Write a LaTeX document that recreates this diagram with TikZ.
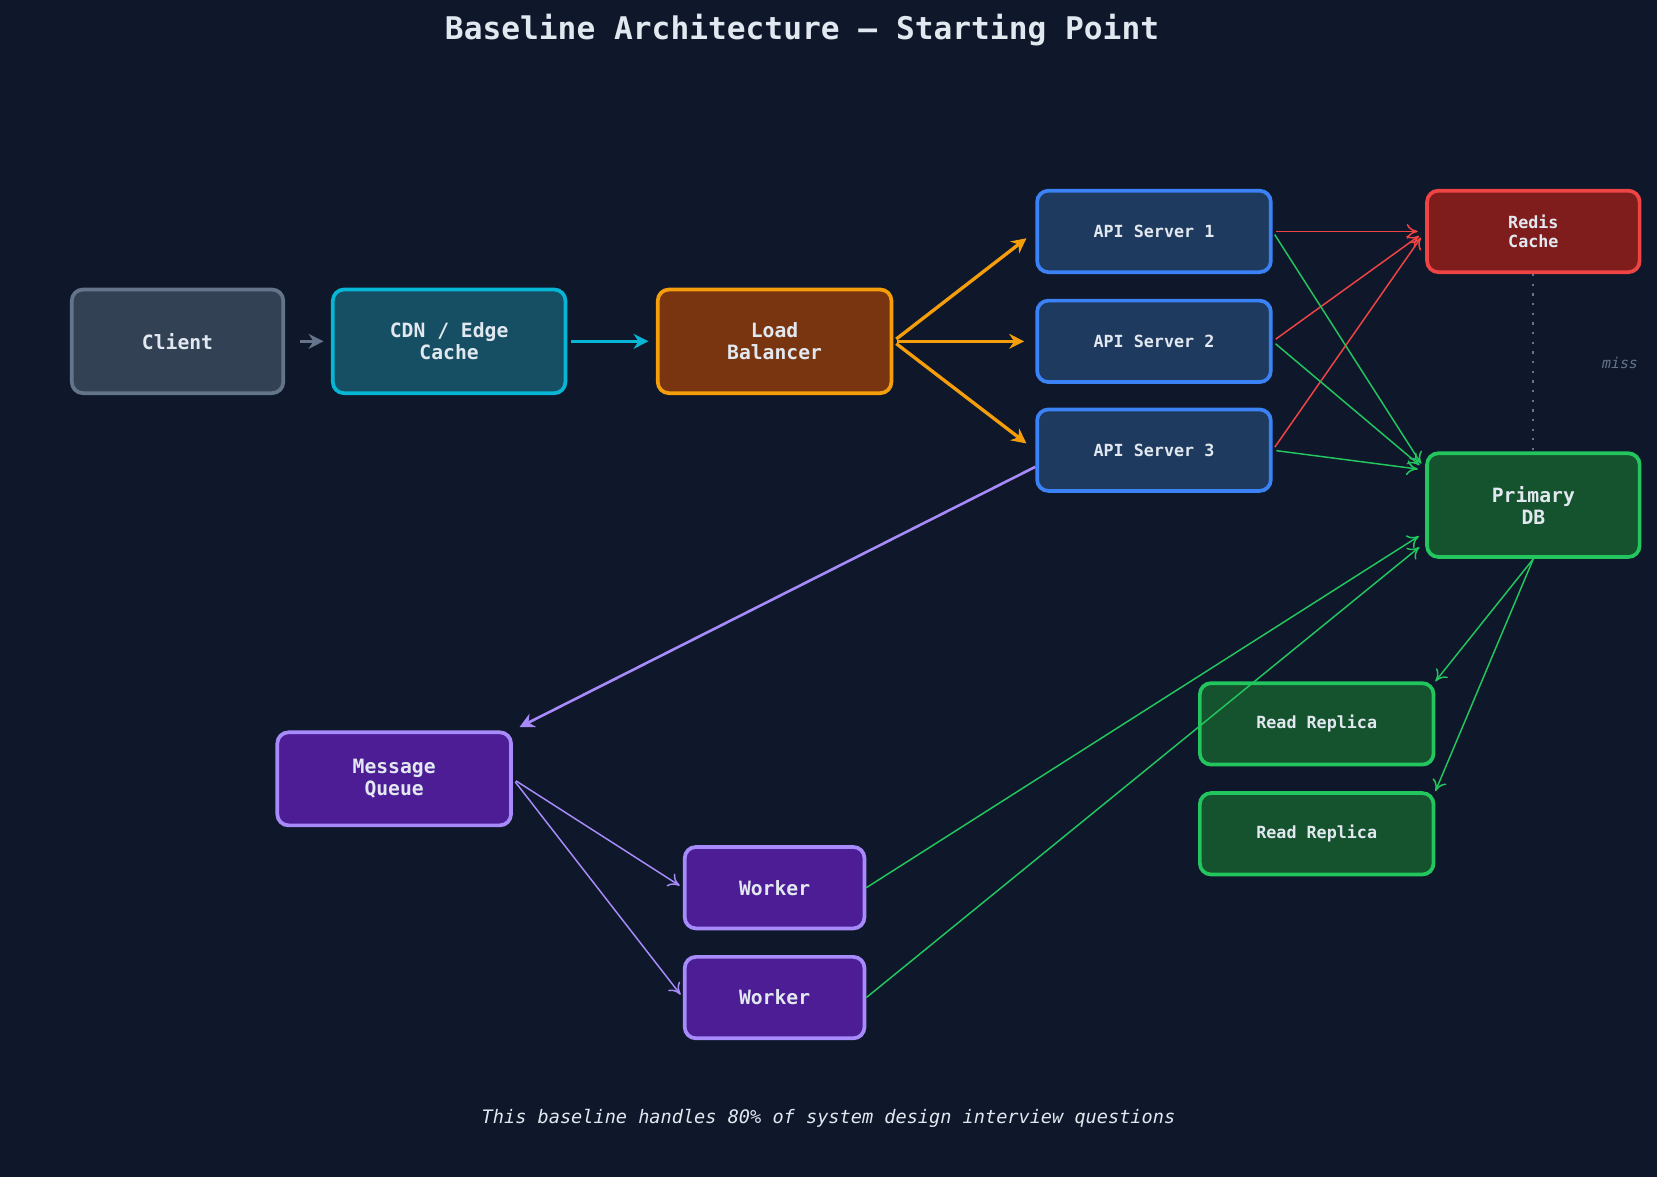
\documentclass[tikz,border=0pt]{standalone}
\usepackage{fontspec}
\setmonofont{DejaVu Sans Mono}
\usetikzlibrary{arrows.meta}
\definecolor{bg}{HTML}{0F172A}
\definecolor{txt}{HTML}{E2E8F0}
\definecolor{slatefill}{HTML}{334155}\definecolor{slateline}{HTML}{64748B}
\definecolor{cyanfill}{HTML}{164E63}\definecolor{cyanline}{HTML}{06B6D4}
\definecolor{amberfill}{HTML}{78350F}\definecolor{amberline}{HTML}{F59E0B}
\definecolor{bluefill}{HTML}{1E3A5F}\definecolor{blueline}{HTML}{3B82F6}
\definecolor{redfill}{HTML}{7F1D1D}\definecolor{redline}{HTML}{EF4444}
\definecolor{greenfill}{HTML}{14532D}\definecolor{greenline}{HTML}{22C55E}
\definecolor{violetfill}{HTML}{4C1D95}\definecolor{violetline}{HTML}{A78BFA}
\tikzset{
  box/.style={rectangle, rounded corners=3pt, line width=1pt, text=txt, align=center,
    font=\ttfamily\bfseries\fontsize{4.5}{5.2}\selectfont, inner sep=0pt},
  big/.style={font=\ttfamily\bfseries\fontsize{5.3}{6}\selectfont},
  arrow/.style={line width=0.9pt, -{Stealth[length=4pt,width=4pt]}},
  thin/.style={line width=0.4pt, -{To[length=3pt,width=4pt]}}
}
\begin{document}
\begin{tikzpicture}[x=0.01cm, y=-0.01cm]
\fill[bg] (0,0) rectangle (1568,1114);
\useasboundingbox (0,0) rectangle (1568,1114);
\node[text=txt, font=\ttfamily\bfseries\fontsize{8.4}{9.5}\selectfont] (title) at (759,28) {Baseline Architecture — Starting Point};
% front
\node[box, big, fill=slatefill, draw=slateline, minimum width=2cm, minimum height=0.98cm] (client) at (168,323) {Client};
\node[box, big, fill=cyanfill, draw=cyanline, minimum width=2.2cm, minimum height=0.98cm] (cdn) at (425,323) {CDN / Edge\\Cache};
\node[box, big, fill=amberfill, draw=amberline, minimum width=2.21cm, minimum height=0.98cm] (lb) at (733,323) {Load\\Balancer};
% api tier
\node[box, fill=bluefill, draw=blueline, minimum width=2.21cm, minimum height=0.77cm] (api1) at (1092,219) {API Server 1};
\node[box, fill=bluefill, draw=blueline, minimum width=2.21cm, minimum height=0.77cm] (api2) at (1092,323) {API Server 2};
\node[box, fill=bluefill, draw=blueline, minimum width=2.21cm, minimum height=0.77cm] (api3) at (1092,426) {API Server 3};
% data tier
\node[box, fill=redfill, draw=redline, minimum width=2.01cm, minimum height=0.77cm] (redis) at (1451,219) {Redis\\Cache};
\node[box, big, fill=greenfill, draw=greenline, minimum width=2.01cm, minimum height=0.98cm] (db) at (1451,478) {Primary\\DB};
\node[box, fill=greenfill, draw=greenline, minimum width=2.21cm, minimum height=0.77cm] (rr1) at (1246,685) {Read Replica};
\node[box, fill=greenfill, draw=greenline, minimum width=2.21cm, minimum height=0.77cm] (rr2) at (1246,789) {Read Replica};
% async
\node[box, big, fill=violetfill, draw=violetline, minimum width=2.21cm, minimum height=0.88cm] (mq) at (373,737) {Message\\Queue};
\node[box, big, fill=violetfill, draw=violetline, minimum width=1.7cm, minimum height=0.77cm] (w1) at (733,840) {Worker};
\node[box, big, fill=violetfill, draw=violetline, minimum width=1.7cm, minimum height=0.77cm] (w2) at (733,944) {Worker};
\node[text=slateline, font=\ttfamily\itshape\fontsize{4}{5}\selectfont] (miss) at (1533,343) {miss};
\node[text=txt, font=\ttfamily\itshape\fontsize{5}{6}\selectfont] (foot) at (784,1058) {This baseline handles 80\% of system design interview questions};
% connectors
\draw[arrow, slateline, shorten <=4pt, shorten >=2pt] (client) -- (cdn);
\draw[arrow, cyanline, shorten <=1pt, shorten >=2pt] (cdn) -- (lb);
\foreach \a in {api1,api2,api3}
  \draw[arrow, amberline, shorten >=3pt, shorten <=1pt] (lb.east) -- (\a.west);
\foreach \a in {api1,api2,api3}
  \draw[thin, redline, shorten <=1pt, shorten >=2pt] (\a.east) -- (redis.west);
\foreach \a in {api1,api2,api3}
  \draw[thin, greenline, shorten <=1pt, shorten >=2pt] (\a.east) -- (db.162);
\draw[line width=0.6pt, slateline, dotted] (redis) -- (db);
\draw[arrow, violetline, line width=0.7pt, shorten >=2pt] (api3.188) -- (mq.north east);
\draw[thin, violetline, shorten <=1pt, shorten >=1pt] (mq.east) -- (w1.west);
\draw[thin, violetline, shorten <=1pt, shorten >=1pt] (mq.east) -- (w2.west);
\draw[thin, greenline, shorten >=2pt] (w1.east) -- (db.194);
\draw[thin, greenline, shorten >=2pt] (w2.east) -- (db.199);
\draw[thin, greenline] (db.south) -- (rr1.north east);
\draw[thin, greenline] (db.south) -- (rr2.north east);
\end{tikzpicture}
\end{document}
